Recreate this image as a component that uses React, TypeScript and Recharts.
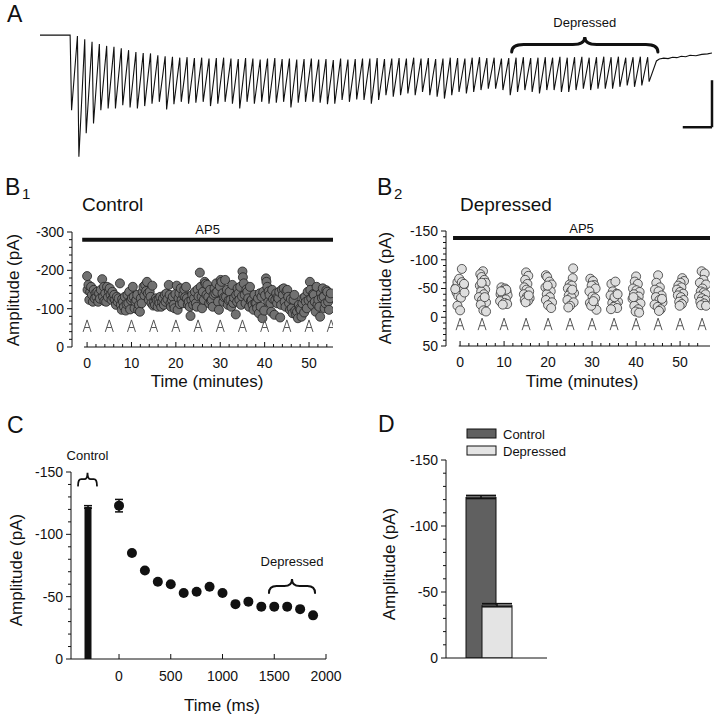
import React from 'react';
import {
  Bar,
  BarChart,
  ComposedChart,
  ErrorBar,
  Line,
  LineChart,
  ReferenceLine,
  Scatter,
  ScatterChart,
  XAxis,
  YAxis,
} from 'recharts';

const FONT = '"Liberation Sans", Arial, Helvetica, sans-serif';
const INK = '#111';

// ---- Panel A: example train of EPSCs (40 Hz, 80 stimuli) ----
const STIM_INTERVAL_MS = 25;
const PEAK_LAG_MS = 5;
const traceTops = [
  0, -2, -9, -14, -19, -23, -25, -28, -32, -36,
  -38, -39, -43, -45, -46, -48, -47, -49, -48, -50,
  -49, -48, -50, -51, -49, -50, -52, -50, -49, -51,
  -50, -52, -51, -50, -52, -51, -53, -50, -52, -51,
  -50, -50, -49, -51, -50, -49, -50, -48, -50, -49,
  -51, -50, -48, -49, -50, -48, -47, -49, -48, -50,
  -49, -48, -47, -49, -48, -47, -48, -46, -48, -47,
  -46, -48, -47, -46, -47, -46, -48, -47, -46, -47,
];
const traceTroughs = [
  -160, -259, -209, -188, -160, -156, -156, -149, -154, -156,
  -151, -146, -142, -158, -147, -142, -146, -144, -142, -151,
  -146, -142, -146, -156, -142, -146, -142, -146, -144, -142,
  -154, -144, -142, -142, -144, -147, -146, -138, -142, -137,
  -138, -146, -138, -128, -131, -128, -124, -128, -121, -128,
  -131, -135, -128, -121, -124, -121, -117, -114, -114, -117,
  -128, -121, -117, -121, -124, -117, -117, -121, -121, -117,
  -114, -117, -114, -114, -114, -110, -107, -110, -107, -99,
];
const baselineTrace: [number, number][] = [[-103, 0], [-1, 0]];
const recoveryTrace: [number, number][] = [
  [2005, -55], [2015, -51], [2030, -49], [2045, -50], [2060, -47], [2075, -48],
  [2090, -45], [2105, -46], [2120, -43], [2140, -44], [2160, -41], [2180, -40], [2195, -38],
];
const scaleBarMs = [2095, 2195];
const scaleBarPa = [-96, -196];
const depressedSpanMs = [1510, 2010];

// ---- Panel B1: control amplitudes (minutes, pA) ----
const controlSweeps: [number, number][] = [
  [0.0, -185], [0.1, -149], [0.3, -162], [0.5, -123], [0.7, -144], [0.9, -157],
  [1.1, -136], [1.3, -118], [1.5, -149], [1.7, -127], [1.9, -140],
  [2.1, -131], [2.3, -144], [2.5, -118], [2.7, -140], [2.9, -126],
  [3.1, -149], [3.4, -177], [3.6, -131], [3.8, -157], [3.9, -120],
  [4.1, -140], [4.3, -118], [4.5, -157], [4.7, -130], [4.9, -146],
  [5.1, -153], [5.3, -136], [5.5, -123], [5.7, -144], [5.9, -129],
  [6.1, -136], [6.3, -123], [6.5, -110], [6.7, -131], [6.9, -118],
  [7.1, -127], [7.4, -166], [7.6, -110], [7.8, -97], [7.9, -125],
  [8.1, -118], [8.3, -105], [8.5, -131], [8.7, -95], [8.9, -112],
  [9.1, -136], [9.3, -114], [9.5, -144], [9.7, -98], [9.9, -122],
  [10.1, -128], [10.3, -157], [10.5, -131], [10.7, -101], [10.9, -118],
  [11.1, -123], [11.3, -136], [11.5, -97], [11.7, -110], [11.9, -92],
  [12.1, -127], [12.3, -114], [12.5, -144], [12.7, -157], [12.9, -135],
  [13.1, -162], [13.3, -146], [13.5, -170], [13.7, -140], [13.9, -123],
  [14.1, -144], [14.3, -131], [14.5, -114], [14.7, -160], [14.9, -108],
  [15.1, -118], [15.3, -110], [15.5, -127], [15.7, -122], [15.9, -105],
  [16.1, -123], [16.3, -114], [16.5, -131], [16.7, -105], [16.9, -118],
  [17.1, -127], [17.3, -110], [17.5, -136], [17.7, -118], [17.9, -140],
  [18.1, -125], [18.4, -162], [18.6, -136], [18.8, -114], [18.9, -105],
  [19.1, -123], [19.3, -131], [19.5, -110], [19.7, -101], [19.9, -138],
  [20.2, -160], [20.4, -97], [20.6, -127], [20.8, -140], [20.9, -112],
  [21.1, -153], [21.3, -123], [21.5, -114], [21.7, -136], [21.9, -150],
  [22.1, -130], [22.3, -157], [22.5, -127], [22.7, -110], [22.9, -118],
  [23.1, -105], [23.3, -81], [23.5, -123], [23.7, -136], [23.9, -110],
  [24.1, -127], [24.3, -144], [24.5, -114], [24.7, -105], [24.9, -150],
  [25.1, -132], [25.4, -194], [25.6, -157], [25.8, -131], [25.9, -101],
  [26.1, -144], [26.3, -123], [26.5, -170], [26.7, -165], [26.9, -136],
  [27.1, -162], [27.3, -131], [27.5, -114], [27.7, -149], [27.9, -120],
  [28.1, -123], [28.3, -105], [28.5, -136], [28.7, -153], [28.9, -140],
  [29.1, -166], [29.3, -144], [29.5, -118], [29.7, -97], [29.9, -158],
  [30.1, -175], [30.3, -170], [30.5, -140], [30.7, -118], [30.9, -130],
  [31.1, -175], [31.3, -131], [31.5, -149], [31.7, -110], [31.9, -122],
  [32.1, -144], [32.3, -123], [32.5, -105], [32.7, -162], [32.9, -115],
  [33.1, -128], [33.5, -85], [33.6, -136], [33.8, -118], [33.9, -153],
  [34.1, -140], [34.3, -123], [34.5, -157], [34.7, -110], [34.9, -132],
  [35.0, -197], [35.1, -182], [35.3, -166], [35.5, -136], [35.7, -114], [35.9, -150],
  [36.1, -144], [36.3, -127], [36.5, -105], [36.7, -157], [36.9, -120],
  [37.1, -123], [37.3, -110], [37.5, -97], [37.7, -136], [37.9, -115],
  [38.1, -114], [38.3, -101], [38.5, -127], [38.7, -88], [38.9, -140],
  [39.1, -105], [39.3, -131], [39.5, -75], [39.7, -144], [39.9, -95],
  [40.1, -135], [40.3, -179], [40.4, -170], [40.6, -157], [40.8, -118], [40.9, -145],
  [41.1, -136], [41.3, -114], [41.5, -92], [41.7, -149], [41.9, -125],
  [42.2, -84], [42.4, -123], [42.6, -140], [42.8, -114], [42.9, -130],
  [43.1, -127], [43.3, -144], [43.5, -77], [43.7, -110], [43.9, -150],
  [44.1, -136], [44.3, -153], [44.5, -118], [44.7, -105], [44.9, -145],
  [45.1, -149], [45.3, -131], [45.5, -114], [45.7, -97], [45.9, -125],
  [46.1, -101], [46.3, -88], [46.5, -123], [46.7, -136], [46.9, -95],
  [47.1, -84], [47.3, -92], [47.5, -75], [47.7, -110], [47.9, -100],
  [48.1, -97], [48.3, -79], [48.5, -114], [48.7, -127], [48.9, -90],
  [49.1, -131], [49.3, -118], [49.5, -101], [49.7, -144], [49.9, -122],
  [50.2, -170], [50.3, -149], [50.5, -127], [50.7, -110], [50.9, -138],
  [51.1, -136], [51.3, -118], [51.5, -92], [51.7, -157], [51.9, -110],
  [52.1, -123], [52.3, -105], [52.5, -79], [52.7, -140], [52.9, -128],
  [53.1, -153], [53.3, -131], [53.5, -101], [53.7, -114], [53.9, -148],
  [54.1, -144], [54.3, -118], [54.5, -97], [54.7, -127], [54.9, -140],
];

// ---- Panel B2: depressed amplitudes, one cluster per test train ----
const depressedSweeps: [number, number][] = [
  [0.4, -84], [-0.9, -52], [-0.6, -61], [-0.2, -67], [0.4, -61], [0.8, -55], [0.0, -49], [-0.8, -43],
  [0.6, -46], [-0.4, -37], [0.2, -34], [1.0, -43], [-0.6, -20], [0.0, -12], [-1.1, -49], [0.9, -58],
  [5.2, -80], [4.6, -75], [4.9, -70], [5.5, -65], [5.8, -60], [4.5, -55], [5.1, -52], [5.7, -48], [4.8, -45],
  [5.4, -40], [4.3, -35], [5.0, -30], [5.9, -26], [4.7, -22], [5.3, -12], [5.9, -10], [4.9, -60], [5.6, -35],
  [9.4, -52], [10.2, -50], [9.8, -46], [10.6, -44], [9.2, -40], [10.0, -37], [10.8, -38], [9.6, -34],
  [10.4, -31], [9.1, -28], [10.1, -25], [10.7, -23], [9.7, -22], [10.5, -48], [9.3, -45],
  [15.0, -78], [15.5, -72], [14.8, -65], [15.3, -58], [14.6, -52], [15.1, -48], [15.7, -45], [14.5, -40],
  [15.2, -36], [15.8, -33], [14.7, -30], [15.4, -28], [14.9, -26], [15.6, -38],
  [19.5, -73], [19.8, -70], [20.3, -62], [20.8, -57], [19.4, -52], [20.1, -48], [20.6, -45], [19.7, -40],
  [20.4, -35], [19.5, -30], [20.9, -26], [20.0, -21], [20.7, -16], [19.9, -55],
  [25.7, -85], [25.6, -68], [24.9, -57], [25.4, -55], [24.5, -50], [25.2, -45], [25.9, -42], [24.7, -38],
  [25.3, -35], [24.4, -30], [25.8, -26], [25.0, -20], [24.6, -17], [25.5, -48],
  [29.6, -67], [30.2, -63], [30.5, -56], [29.9, -55], [30.8, -50], [29.4, -45], [30.1, -36], [30.7, -33],
  [29.5, -25], [30.4, -22], [31.0, -13], [29.8, -20], [30.3, -28],
  [34.4, -58], [35.3, -62], [34.7, -45], [35.6, -41], [34.2, -38], [35.0, -30], [35.9, -27], [34.6, -25],
  [35.4, -22], [34.9, -18], [35.7, -16], [34.3, -14], [35.1, -35], [35.8, -40],
  [40.0, -71], [39.7, -62], [40.4, -58], [39.3, -50], [40.1, -47], [40.8, -44], [39.5, -40], [40.6, -36],
  [39.2, -32], [40.3, -28], [41.0, -24], [39.6, -20], [40.5, -14], [39.9, -10], [40.7, -8], [39.4, -35],
  [45.0, -73], [44.6, -60], [45.4, -52], [44.3, -48], [45.1, -45], [45.8, -38], [44.5, -35], [45.3, -30],
  [46.0, -26], [44.2, -22], [44.9, -18], [45.6, -14], [45.2, -11], [45.9, -32],
  [50.5, -68], [50.9, -63], [50.1, -60], [49.6, -55], [50.3, -52], [49.3, -48], [50.0, -44], [50.7, -41],
  [49.5, -38], [50.2, -35], [50.8, -30], [49.8, -27], [50.4, -23], [49.9, -20],
  [54.9, -80], [55.6, -76], [55.3, -65], [54.5, -60], [55.9, -57], [55.1, -50], [54.7, -45], [55.4, -43],
  [55.8, -40], [54.3, -36], [55.0, -33], [55.7, -30], [54.6, -27], [55.5, -24], [54.8, -21], [55.9, -20],
];

const stimMinutes = [0, 5, 10, 15, 20, 25, 30, 35, 40, 45, 50, 55];
const minuteTicks = [0, 2, 4, 6, 8, 10, 12, 14, 16, 18, 20, 22, 24, 26, 28, 30, 32, 34, 36, 38, 40, 42, 44, 46, 48, 50, 52, 54];
const minuteMajors = [0, 10, 20, 30, 40, 50];
const controlYTicks = [-300, -280, -260, -240, -220, -200, -180, -160, -140, -120, -100, -80, -60, -40, -20, 0];
const controlYMajors = [-300, -200, -100, 0];
const depressedYTicks = [-150, -140, -130, -120, -110, -100, -90, -80, -70, -60, -50, -40, -30, -20, -10, 0, 10, 20, 30, 40, 50];
const depressedYMajors = [-150, -100, -50, 0, 50];

// ---- Panel C: mean amplitude during the train ----
const trainTimesMs = [0, 125, 250, 375, 500, 625, 750, 875, 1000, 1125, 1250, 1375, 1500, 1625, 1750, 1875];
const trainAmps = [-123, -85, -71, -62, -60, -53, -54, -58, -53, -44, -46, -42, -42, -42, -40, -35];
const trainErrs = [5, 1, 1, 1, 1, 1, 1, 1, 1, 1, 1, 1, 1, 1, 1, 1];
const controlMeanAmp = -122;
const controlMeanErr = 1;
const controlBarTime = -300;
const msTicks = [0, 500, 1000, 1500, 2000];
const ampTicks150 = [-150, -140, -130, -120, -110, -100, -90, -80, -70, -60, -50, -40, -30, -20, -10, 0];
const ampMajors150 = [-150, -100, -50, 0];

// ---- Panel D: summary ----
const summarySeries = [
  { key: 'control', name: 'Control', value: -122, err: 1.2, fill: '#606060' },
  { key: 'depressed', name: 'Depressed', value: -40, err: 1.2, fill: '#e4e4e4' },
];

const traceData = [
  ...baselineTrace.map(([t, v]) => ({ t, v })),
  ...traceTops.flatMap((top, i) => [
    { t: i * STIM_INTERVAL_MS, v: top },
    { t: i * STIM_INTERVAL_MS + PEAK_LAG_MS, v: traceTroughs[i] },
  ]),
  ...recoveryTrace.map(([t, v]) => ({ t, v })),
];
const controlPoints = controlSweeps.map(([t, amp]) => ({ t, amp }));
const depressedPoints = depressedSweeps.map(([t, amp]) => ({ t, amp }));
const trainPoints = trainTimesMs.map((t, i) => ({ t, amp: trainAmps[i], err: trainErrs[i] }));
const controlBarRows = [{ t: controlBarTime, amp: controlMeanAmp, err: controlMeanErr }];
const summaryRows = [
  summarySeries.reduce<Record<string, number | string>>(
    (row, s) => ({ ...row, [s.key]: s.value, [`${s.key}Err`]: s.err }),
    { group: '' },
  ),
];

const yTick = (majors: number[]) => (props: any) => {
  const { x, y, payload } = props;
  const isMajor = majors.includes(payload.value);
  return (
    <g>
      <line x1={x} y1={y} x2={x - (isMajor ? 5 : 3)} y2={y} stroke={INK} />
      {isMajor && (
        <text x={x - 8} y={y} dy="0.35em" textAnchor="end" fontSize={14} fill={INK}>
          {payload.value}
        </text>
      )}
    </g>
  );
};

const xTick = (majors: number[], gap = 16) => (props: any) => {
  const { x, y, payload } = props;
  const isMajor = majors.includes(payload.value);
  return (
    <g>
      <line x1={x} y1={y} x2={x} y2={y - (isMajor ? 5 : 3)} stroke={INK} />
      {isMajor && (
        <text x={x} y={y + gap} dy="0.35em" textAnchor="middle" fontSize={14} fill={INK}>
          {payload.value}
        </text>
      )}
    </g>
  );
};

const braceShape = (height: number, weight: number) => (props: any) => {
  const { x1, x2, y1 } = props;
  const left = Math.min(x1, x2);
  const right = Math.max(x1, x2);
  const mid = (left + right) / 2;
  const half = height / 2;
  const curl = Math.min(half * 1.6, (right - left) / 6);
  const d =
    `M${left},${y1} Q${left},${y1 - half} ${left + curl},${y1 - half} ` +
    `L${mid - curl},${y1 - half} Q${mid},${y1 - half} ${mid},${y1 - height} ` +
    `Q${mid},${y1 - half} ${mid + curl},${y1 - half} L${right - curl},${y1 - half} ` +
    `Q${right},${y1 - half} ${right},${y1}`;
  return <path d={d} fill="none" stroke={INK} strokeWidth={weight} strokeLinecap="round" />;
};

const stimArrow = (props: any) => {
  const { cx, cy } = props;
  return (
    <path
      d={`M${cx - 4},${cy + 6} L${cx},${cy - 6} L${cx + 4},${cy + 6} M${cx - 2.4},${cy + 1.6} L${cx + 2.4},${cy + 1.6}`}
      fill="none"
      stroke="#555"
      strokeWidth={1}
    />
  );
};

const blackDot = (props: any) => <circle cx={props.cx} cy={props.cy} r={5} fill={INK} />;

const labelStyle = { fontSize: 13, fill: INK };

export default function App() {
  return (
    <div style={{ position: 'absolute', left: 0, top: 0, width: 718, height: 719, background: '#fff', fontFamily: FONT }}>
      {/* A */}
      <div style={{ position: 'absolute', left: 0, top: 0 }}>
        <LineChart width={718} height={170} data={traceData} margin={{ top: 21, right: 6, bottom: 8, left: 40 }}>
          <XAxis type="number" dataKey="t" domain={[-103, 2195]} hide allowDataOverflow />
          <YAxis type="number" domain={[-270, 30]} hide allowDataOverflow />
          <Line type="linear" dataKey="v" stroke={INK} strokeWidth={1.1} dot={false} isAnimationActive={false} />
          <ReferenceLine
            segment={[{ x: depressedSpanMs[0], y: -36 }, { x: depressedSpanMs[1], y: -36 }]}
            shape={braceShape(15, 3)}
            label={{ value: 'Depressed', position: 'top', offset: 25, ...labelStyle }}
          />
          <ReferenceLine
            segment={[{ x: scaleBarMs[0], y: scaleBarPa[1] }, { x: scaleBarMs[1], y: scaleBarPa[1] }]}
            stroke={INK}
            strokeWidth={2.5}
          />
          <ReferenceLine
            segment={[{ x: scaleBarMs[1], y: scaleBarPa[0] }, { x: scaleBarMs[1], y: scaleBarPa[1] }]}
            stroke={INK}
            strokeWidth={2.5}
          />
        </LineChart>
      </div>

      {/* B1 */}
      <div style={{ position: 'absolute', left: 0, top: 220 }}>
        <ScatterChart width={360} height={160} margin={{ top: 12, right: 27, bottom: 8, left: 0 }}>
          <XAxis
            type="number" dataKey="t" domain={[-3.4, 55.4]} ticks={minuteTicks} interval={0} height={25}
            tickSize={0} tickMargin={0} tickLine={false} axisLine={false} tick={xTick(minuteMajors)} allowDataOverflow
          />
          <YAxis
            type="number" dataKey="amp" domain={[-300, 0]} reversed ticks={controlYTicks} interval={0} width={72}
            tickSize={0} tickMargin={0} tickLine={false} axisLine={{ stroke: INK }} tick={yTick(controlYMajors)} allowDataOverflow
          />
          <ReferenceLine segment={[{ x: -0.7, y: 0 }, { x: 55.4, y: 0 }]} stroke={INK} />
          <ReferenceLine
            segment={[{ x: -1.1, y: -280 }, { x: 55.4, y: -280 }]}
            stroke={INK}
            strokeWidth={4}
            label={{ value: 'AP5', position: 'top', offset: 6, ...labelStyle }}
          />
          <Scatter data={controlPoints} fill="#717171" stroke="#222" strokeWidth={0.8} isAnimationActive={false} />
          <Scatter data={stimMinutes.map((t) => ({ t, amp: -55 }))} shape={stimArrow} isAnimationActive={false} />
        </ScatterChart>
      </div>

      {/* B2 */}
      <div style={{ position: 'absolute', left: 360, top: 220 }}>
        <ScatterChart width={358} height={160} margin={{ top: 11, right: 8, bottom: 9, left: 0 }}>
          <XAxis
            type="number" dataKey="t" domain={[-3.2, 56.8]} ticks={minuteTicks} interval={0} height={25}
            tickSize={0} tickMargin={0} tickLine={false} axisLine={false} tick={xTick(minuteMajors)} allowDataOverflow
          />
          <YAxis
            type="number" dataKey="amp" domain={[-150, 50]} reversed ticks={depressedYTicks} interval={0} width={86}
            tickSize={0} tickMargin={0} tickLine={false} axisLine={{ stroke: INK }} tick={yTick(depressedYMajors)} allowDataOverflow
          />
          <ReferenceLine segment={[{ x: -0.3, y: 50 }, { x: 56.8, y: 50 }]} stroke={INK} />
          <ReferenceLine
            segment={[{ x: -1.6, y: -138 }, { x: 56.8, y: -138 }]}
            stroke={INK}
            strokeWidth={4}
            label={{ value: 'AP5', position: 'top', offset: 5, ...labelStyle }}
          />
          <Scatter data={depressedPoints} fill="#dedede" stroke="#333" strokeWidth={0.8} isAnimationActive={false} />
          <Scatter data={stimMinutes.map((t) => ({ t, amp: 12 }))} shape={stimArrow} isAnimationActive={false} />
        </ScatterChart>
      </div>

      {/* C */}
      <div style={{ position: 'absolute', left: 0, top: 420 }}>
        <ComposedChart width={360} height={299} data={controlBarRows} margin={{ top: 52, right: 34, bottom: 30, left: 0 }}>
          <XAxis
            type="number" dataKey="t" domain={[-464, 2000]} ticks={msTicks} interval={0} height={30}
            tickSize={0} tickMargin={0} tickLine={false} axisLine={{ stroke: INK }} tick={xTick(msTicks, 17)} allowDataOverflow
          />
          <YAxis
            type="number" dataKey="amp" domain={[-150, 0]} reversed ticks={ampTicks150} interval={0} width={71}
            tickSize={0} tickMargin={0} tickLine={false} axisLine={{ stroke: INK }} tick={yTick(ampMajors150)} allowDataOverflow
          />
          <Bar dataKey="amp" barSize={7} fill={INK} isAnimationActive={false}>
            <ErrorBar dataKey="err" direction="y" width={4} stroke={INK} />
          </Bar>
          <Scatter data={trainPoints} shape={blackDot} isAnimationActive={false}>
            <ErrorBar dataKey="err" direction="y" width={4} stroke={INK} />
          </Scatter>
          <ReferenceLine
            segment={[{ x: -396, y: -139 }, { x: -213, y: -139 }]}
            shape={braceShape(13, 1.8)}
            label={{ value: 'Control', position: 'top', offset: 26, ...labelStyle }}
          />
          <ReferenceLine
            segment={[{ x: 1449, y: -53 }, { x: 1894, y: -53 }]}
            shape={braceShape(14, 2)}
            label={{ value: 'Depressed', position: 'top', offset: 27, ...labelStyle }}
          />
        </ComposedChart>
      </div>

      {/* D */}
      <div style={{ position: 'absolute', left: 360, top: 420 }}>
        <BarChart width={358} height={299} data={summaryRows} barGap={-14} margin={{ top: 40, right: 171, bottom: 51, left: 0 }}>
          <XAxis dataKey="group" height={10} tick={false} tickLine={false} axisLine={{ stroke: INK }} padding={{ left: 0, right: 15 }} />
          <YAxis
            type="number" domain={[-150, 0]} reversed ticks={ampTicks150} interval={0} width={86}
            tickSize={0} tickMargin={0} tickLine={false} axisLine={{ stroke: INK }} tick={yTick(ampMajors150)} allowDataOverflow
          />
          {summarySeries.map((s) => (
            <Bar key={s.key} dataKey={s.key} name={s.name} barSize={30} fill={s.fill} stroke={INK} strokeWidth={1} isAnimationActive={false}>
              <ErrorBar dataKey={`${s.key}Err`} direction="y" width={15} stroke={INK} />
            </Bar>
          ))}
        </BarChart>
      </div>

      {/* Figure lettering, titles and axis titles */}
      <svg width={718} height={719} style={{ position: 'absolute', left: 0, top: 0, pointerEvents: 'none' }} fontFamily={FONT} fill={INK}>
        <text x={7} y={22} fontSize={23}>A</text>
        <text x={5} y={195} fontSize={23}>B</text>
        <text x={22} y={199} fontSize={15}>1</text>
        <text x={377} y={195} fontSize={23}>B</text>
        <text x={394} y={199} fontSize={15}>2</text>
        <text x={7} y={433} fontSize={23}>C</text>
        <text x={378} y={432} fontSize={23}>D</text>

        <text x={82} y={211} fontSize={19}>Control</text>
        <text x={460} y={211} fontSize={19}>Depressed</text>

        <text x={19} y={290} fontSize={17} textAnchor="middle" transform="rotate(-90 19 290)">Amplitude (pA)</text>
        <text x={391} y={288} fontSize={17} textAnchor="middle" transform="rotate(-90 391 288)">Amplitude (pA)</text>
        <text x={22} y={570} fontSize={17} textAnchor="middle" transform="rotate(-90 22 570)">Amplitude (pA)</text>
        <text x={395} y={564} fontSize={17} textAnchor="middle" transform="rotate(-90 395 564)">Amplitude (pA)</text>

        <text x={207} y={387} fontSize={17} textAnchor="middle">Time (minutes)</text>
        <text x={582} y={387} fontSize={17} textAnchor="middle">Time (minutes)</text>
        <text x={222} y={711} fontSize={17} textAnchor="middle">Time (ms)</text>

        {summarySeries.map((s, i) => (
          <g key={s.key}>
            <rect x={467} y={429 + i * 17} width={29} height={9} fill={s.fill} stroke={INK} strokeWidth={1} />
            <text x={503} y={438.5 + i * 17} fontSize={13}>{s.name}</text>
          </g>
        ))}
      </svg>
    </div>
  );
}
